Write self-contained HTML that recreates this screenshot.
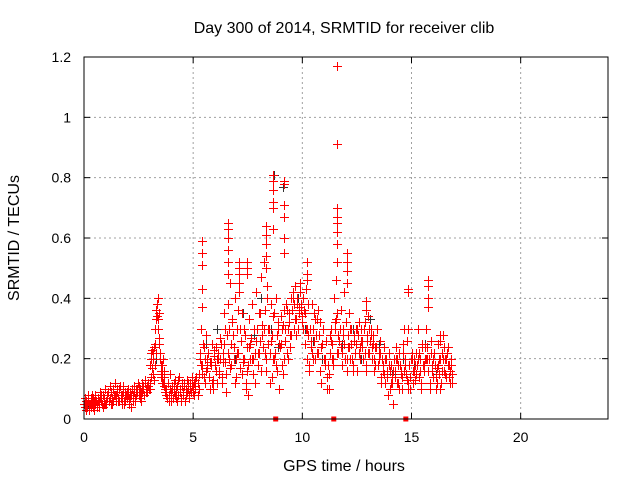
<!DOCTYPE html>
<html><head><meta charset="utf-8"><style>
body{margin:0;background:#fff}
svg{display:block;font-family:"Liberation Sans",sans-serif}
</style></head><body>
<svg id="chart" width="640" height="480">
<text x="344" y="33" font-size="16" text-anchor="middle">Day 300 of 2014, SRMTID for receiver clib</text>
<text transform="translate(19,238) rotate(-90)" font-size="16" text-anchor="middle">SRMTID / TECUs</text>
<text x="344" y="471" font-size="16" text-anchor="middle">GPS time / hours</text>
<g id="grid"></g>
<g id="ticks"></g>
<g id="black"></g>
<g id="red"></g>
<rect x="84" y="57" width="524" height="362" fill="none" stroke="#000"/>
</svg>
<script>
const xTicks=[0,5,10,15,20];
const yTicks=[0,0.2,0.4,0.6,0.8,1,1.2];
const yTickLabels=["0","0.2","0.4","0.6","0.8","1","1.2"];
const xMin=0,xMax=24,yMin=0,yMax=1.2;
const L=84,R=608,T=57,B=419;
function X(t){return L+(t-xMin)/(xMax-xMin)*(R-L);}
function Y(v){return B-(v-yMin)/(yMax-yMin)*(B-T);}
const segA_t0=0,segA_dt=0.05;
const segA=[0.05,0.07,0.03,0.04,0.06,0.05,0.04,0.08,0.07,0.03,0.05,0.06,0.04,0.06,0.06,0.07,0.08,0.04,0.05,0.05,0.06,0.07,0.09,0.06,0.07,0.05,0.05,0.1,0.08,0.08,0.1,0.06,0.06,0.11,0.07,0.08,0.09,0.05,0.06,0.09,0.08,0.07,0.07,0.04,0.1,0.08,0.09,0.06,0.08,0.1,0.11,0.07,0.09,0.12,0.1,0.08,0.12,0.1,0.09,0.11];
const segA2_t0=0.025,segA2_dt=0.05;
const segA2=[0.04,0.06,0.05,0.08,0.03,0.05,0.07,0.05,0.04,0.06,0.08,0.05,0.07,0.04,0.09,0.06,0.05,0.08,0.07,0.1,0.05,0.08,0.06,0.11,0.09,0.07,0.06,0.08,0.12,0.06,0.09,0.07,0.1,0.08,0.05,0.11,0.06,0.09,0.08,0.07,0.1,0.05,0.09,0.08,0.06,0.11,0.07,0.1,0.09,0.12,0.08,0.1,0.06,0.09,0.11,0.13,0.09,0.11,0.12,0.1];
const segB_t0=3.0,segB_dt=0.035;
const segB=[0.12,0.18,0.22,0.23,0.15,0.2,0.24,0.3,0.33,0.36,0.38,0.4,0.35,0.27,0.22,0.18,0.12,0.15,0.2,0.16,0.1];
const segB2_t0=3.02,segB2_dt=0.035;
const segB2=[0.1,0.14,0.2,0.17,0.22,0.13,0.18,0.25,0.22,0.34,0.33,0.3,0.25,0.2,0.16,0.14,0.18,0.12,0.14,0.11,0.09];
const segC_t0=3.75,segC_dt=0.05;
const segC=[0.1,0.07,0.12,0.08,0.15,0.06,0.1,0.09,0.13,0.07,0.11,0.08,0.14,0.1,0.06,0.12,0.09,0.11,0.08,0.13,0.1,0.07,0.12,0.09,0.14,0.11,0.08,0.13];
const segC2_t0=3.775,segC2_dt=0.05;
const segC2=[0.08,0.12,0.06,0.1,0.09,0.11,0.07,0.12,0.08,0.1,0.06,0.13,0.09,0.07,0.11,0.08,0.12,0.06,0.1,0.09,0.12,0.08,0.1,0.11,0.09,0.12,0.1,0.14];
const segD_t0=5.2,segD_dt=0.05;
const segD=[0.12,0.15,0.22,0.3,0.18,0.25,0.14,0.2,0.28,0.17,
0.22,0.1,0.19,0.25,0.13,0.21,0.18,0.24,0.12,0.2,
0.16,0.27,0.14,0.22,0.35,0.19,0.09,0.28,0.38,0.3,
0.45,0.25,0.32,0.2,0.4,0.14,0.3,0.22,0.48,0.17,
0.26,0.35,0.19,0.3,0.1,0.24,0.08,0.33,0.2,0.27,
0.38,0.15,0.3,0.22,0.42,0.18,0.35,0.26,0.47,0.31,
0.24,0.52,0.36,0.2,0.44,0.3,0.12,0.38,0.28,0.2,
0.35,0.22,0.4,0.16,0.3,0.25,0.34,0.18,0.31,0.36,
0.26,0.38,0.22,0.3,0.35,0.28,0.4,0.42,0.38,0.44,
0.33,0.4,0.3,0.37,0.45,0.36,0.32,0.4,0.35,0.43,
0.2,0.28,0.18,0.3,0.24,0.38,0.2,0.26,0.33,0.22,
0.36,0.28,0.32,0.12,0.25,0.3,0.2,0.18,0.26,0.14,
0.1,0.22,0.3,0.25,0.18,0.4,0.32,0.46,0.35,0.28,
0.26,0.36,0.22,0.3,0.42,0.2,0.32,0.16,0.28,0.24,
0.2,0.3,0.18,0.26,0.22,0.3,0.16,0.28,0.32,0.24,
0.3,0.26,0.2,0.32,0.18,0.28,0.34,0.22,0.26,0.3,
0.2,0.28,0.16,0.24,0.3,0.18,0.22,0.26,0.14,0.2,
0.18,0.24,0.12,0.2,0.16,0.22,0.1,0.18,0.14,0.05,
0.2,0.16,0.24,0.12,0.18,0.22,0.15,0.1,0.25,0.3,
0.2,0.15,0.26,0.12,0.18,0.1,0.22,0.16,0.2,0.13,
0.22,0.18,0.3,0.14,0.2,0.1,0.25,0.16,0.2,0.3,
0.24,0.16,0.2,0.12,0.26,0.18,0.14,0.22,0.1,0.17,
0.25,0.15,0.2,0.12,0.22,0.28,0.16,0.2,0.14,0.24,
0.18,0.12,0.2,0.15];
const segE_t0=5.225,segE_dt=0.1;
const segE=[0.08,0.2,0.15,0.12,0.2,0.14,0.18,0.1,0.16,0.22,0.2,0.12,0.25,0.15,0.2,0.18,0.28,0.12,0.22,0.3,
0.15,0.2,0.12,0.18,0.25,0.2,0.12,0.3,0.22,0.16,0.3,0.16,0.25,0.22,0.14,0.2,0.28,0.1,0.25,0.15,
0.3,0.2,0.24,0.36,0.3,0.28,0.35,0.38,0.3,0.25,0.3,0.16,0.22,0.35,0.28,0.22,0.16,0.3,0.2,0.1,
0.15,0.26,0.2,0.33,0.22,0.3,0.18,0.25,0.2,0.35,0.25,0.16,0.22,0.3,0.2,0.24,0.3,0.16,0.22,0.28,
0.25,0.18,0.3,0.2,0.12,0.15,0.2,0.08,0.16,0.12,0.14,0.2,0.1,0.16,0.22,0.18,0.1,0.14,0.2,0.16,
0.15,0.22,0.12,0.18,0.24,0.2,0.1,0.16,0.22,0.14,0.18,0.1,0.2,0.15,0.22,0.14,0.18];
const segF_t0=5.275,segF_dt=0.1;
const segF=[0.1,0.18,0.24,0.16,0.22,0.19,0.12,0.23,0.2,0.15,0.25,0.19,0.3,0.22,0.17,0.33,0.24,0.2,0.36,0.26,
0.2,0.28,0.16,0.24,0.2,0.3,0.26,0.22,0.35,0.28,0.22,0.4,0.3,0.26,0.34,0.18,0.32,0.24,0.3,0.2,
0.36,0.32,0.28,0.4,0.33,0.38,0.42,0.34,0.36,0.3,0.38,0.26,0.3,0.2,0.33,0.28,0.24,0.2,0.26,0.18,
0.28,0.2,0.3,0.22,0.26,0.24,0.28,0.2,0.24,0.3,0.2,0.28,0.25,0.22,0.26,0.2,0.22,0.26,0.3,0.24,
0.2,0.24,0.18,0.22,0.16,0.2,0.14,0.18,0.12,0.16,0.2,0.12,0.18,0.14,0.16,0.13,0.18,0.2,0.12,0.18,
0.2,0.16,0.24,0.18,0.2,0.16,0.22,0.2,0.18,0.12,0.2,0.16,0.24,0.2,0.18,0.16,0.12];
const peakTimes=[5.4,5.4,5.4,5.4,5.4,6.6,6.6,6.6,6.6,6.6,6.6,7.1,7.1,7.1,7.1,7.45,7.45,7.45,8.35,8.35,8.35,8.35,8.35,8.65,8.65,8.65,8.65,8.65,8.65,9.15,9.15,9.15,9.15,9.15,9.15,10.2,10.2,10.2,11.6,11.6,11.6,11.6,11.6,11.6,11.6,11.6,12.05,12.05,12.05,12.05,12.9,12.9,14.85,14.85,14.85,15.75,15.75,15.75,15.75,16.3,16.3];
const peakValues=[0.59,0.55,0.51,0.43,0.37,0.65,0.63,0.6,0.56,0.52,0.48,0.52,0.5,0.45,0.42,0.52,0.5,0.48,0.64,0.61,0.58,0.54,0.5,0.81,0.79,0.76,0.72,0.7,0.63,0.79,0.78,0.71,0.67,0.6,0.55,0.52,0.48,0.46,1.17,0.91,0.7,0.67,0.65,0.62,0.58,0.52,0.55,0.52,0.49,0.45,0.39,0.36,0.43,0.42,0.3,0.46,0.44,0.4,0.37,0.28,0.26];
const blackTimes=[0.2,0.9,1.6,2.4,3.3,4.2,5.6,6.1,6.9,7.3,7.8,8.1,8.55,8.7,8.9,9.1,9.3,9.5,9.8,10.1,10.5,10.9,11.3,11.58,11.8,12.3,12.7,13.1,13.5,14.1,14.6,15.1,15.6,16.1,16.6];
const blackValues=[0.05,0.07,0.06,0.09,0.2,0.1,0.25,0.3,0.2,0.35,0.28,0.4,0.3,0.81,0.24,0.77,0.36,0.28,0.4,0.3,0.26,0.2,0.3,0.91,0.25,0.3,0.2,0.33,0.25,0.15,0.2,0.18,0.25,0.15,0.2];
const squareTimes=[8.78,11.44,14.74];
const squareValues=[0,0,0];
const NS="http://www.w3.org/2000/svg";
function el(tag,attrs,parent){const e=document.createElementNS(NS,tag);for(const k in attrs)e.setAttribute(k,attrs[k]);parent.appendChild(e);return e;}
const grid=document.getElementById('grid'),ticks=document.getElementById('ticks');
xTicks.forEach(t=>{
  if(t>xMin&&t<xMax){const g=el('line',{x1:X(t),x2:X(t),y1:T,y2:B,stroke:'#a0a0a0','stroke-dasharray':'2,3'},grid);
  
  }
  el('line',{x1:X(t),x2:X(t),y1:B,y2:B-6,stroke:'#000'},ticks);
  el('line',{x1:X(t),x2:X(t),y1:T,y2:T+6,stroke:'#000'},ticks);
  const lb=el('text',{x:X(t),y:B+23,'font-size':14,'text-anchor':'middle'},ticks);lb.textContent=t;
  
  
});
yTicks.forEach((v,i)=>{
  if(v>yMin&&v<yMax){const g=el('line',{x1:L,x2:R,y1:Y(v),y2:Y(v),stroke:'#a0a0a0','stroke-dasharray':'2,3'},grid);
  
  }
  el('line',{x1:L,x2:L+6,y1:Y(v),y2:Y(v),stroke:'#000'},ticks);
  el('line',{x1:R,x2:R-6,y1:Y(v),y2:Y(v),stroke:'#000'},ticks);
  const lb=el('text',{x:71,y:Y(v)+5,'font-size':14,'text-anchor':'end'},ticks);lb.textContent=yTickLabels[i];
  
  
});
function cross(t,v,color,parent){
  const x=Math.round(X(t))+0.5,y=Math.round(Y(v))+0.5;
  const p=el('path',{d:`M${x-4.5},${y}H${x+4.5}M${x},${y-4.5}V${y+4.5}`,stroke:color,'stroke-width':1.1,fill:'none','shape-rendering':'crispEdges'},parent);
  
  
}
const red=document.getElementById('red'),black=document.getElementById('black');
blackTimes.forEach((t,i)=>cross(t,blackValues[i],'#333',black));
[[segA_t0,segA_dt,segA],[segA2_t0,segA2_dt,segA2],[segB_t0,segB_dt,segB],[segB2_t0,segB2_dt,segB2],[segC_t0,segC_dt,segC],[segC2_t0,segC2_dt,segC2],[segD_t0,segD_dt,segD],[segE_t0,segE_dt,segE],[segF_t0,segF_dt,segF]].forEach(([t0,dt,vals])=>{
  vals.forEach((v,i)=>cross(t0+i*dt,v,'#ff0000',red));
});
peakTimes.forEach((t,i)=>cross(t,peakValues[i],'#ff0000',red));
squareTimes.forEach((t,i)=>{
  const s=el('rect',{x:X(t)-2.5,y:Y(squareValues[i])-2.5,width:5,height:5,fill:'#ff0000'},red);
  
  
});
</script>
</body></html>
